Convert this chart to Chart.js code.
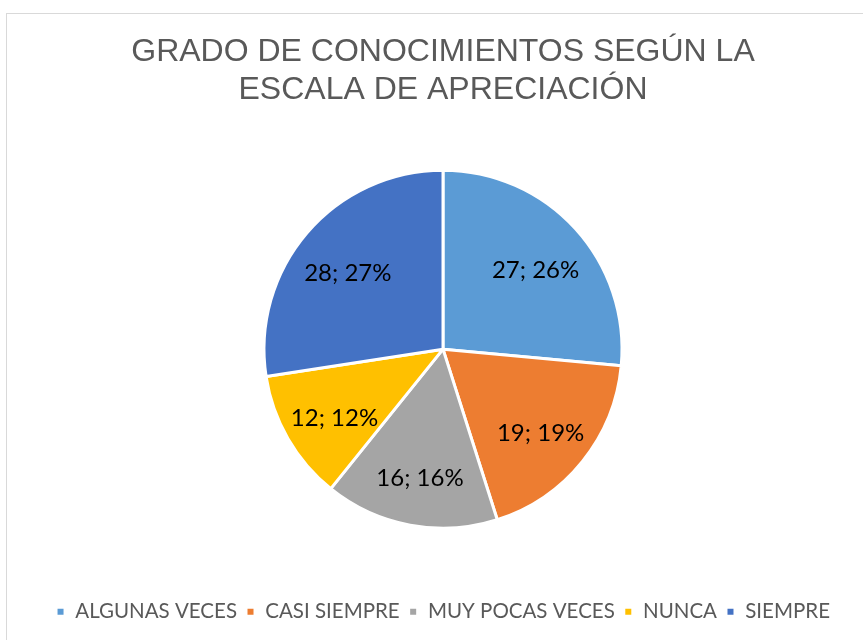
<!DOCTYPE html>
<html>
<head>
<meta charset="utf-8">
<script src="https://cdn.jsdelivr.net/npm/chart.js@4/dist/chart.umd.min.js"></script>
<style>
    html, body { margin: 0; padding: 0; background: #fff; overflow: hidden; }
    #wrap { position: relative; width: 863px; height: 640px; }
    #frame { position: absolute; left: 6px; top: 13px; width: 900px; height: 700px; border: 1px solid #d9d9d9; box-sizing: border-box; }
    canvas { position: absolute; left: 0; top: 0; }
</style>
</head>
<body>
<div id="wrap">
    <div id="frame"></div>
    <canvas id="pieChart" width="863" height="640"></canvas>
</div>
<script>
// Datos del gráfico
const categorias = ['ALGUNAS VECES', 'CASI SIEMPRE', 'MUY POCAS VECES', 'NUNCA', 'SIEMPRE'];
const valores = [27, 19, 16, 12, 28];
const colores = ['#5B9BD5', '#ED7D31', '#A5A5A5', '#FFC000', '#4472C4'];
const tituloLineas = ['GRADO DE CONOCIMIENTOS SEGÚN LA', 'ESCALA DE APRECIACIÓN'];

// Etiquetas "valor; porcentaje" dentro de cada sector
const etiquetasPlugin = {
    id: 'etiquetas',
    afterDatasetsDraw(chart) {
        const ctx = chart.ctx;
        const meta = chart.getDatasetMeta(0);
        const data = chart.data.datasets[0].data;
        const total = data.reduce((a, b) => a + b, 0);
        ctx.save();
        ctx.font = '24px Lato, "Open Sans", sans-serif';
        ctx.fillStyle = '#000';
        ctx.textAlign = 'center';
        ctx.textBaseline = 'middle';
        meta.data.forEach((arc, i) => {
            const mid = (arc.startAngle + arc.endAngle) / 2;
            const r = arc.outerRadius * 0.7;
            const x = arc.x + Math.cos(mid) * r;
            const y = arc.y + Math.sin(mid) * r + 6;
            const pct = Math.round(data[i] / total * 100);
            ctx.fillText(data[i] + '; ' + pct + '%', x, y);
        });
        ctx.restore();
    }
};

const ctx = document.getElementById('pieChart');
new Chart(ctx, {
    type: 'pie',
    data: {
        labels: categorias,
        datasets: [{
            data: valores,
            backgroundColor: colores,
            borderColor: '#ffffff',
            borderWidth: 3,
            radius: 179
        }]
    },
    options: {
        responsive: false,
        animation: false,
        layout: {
            padding: { left: 23, right: 0, top: 0, bottom: 8 }
        },
        plugins: {
            title: {
                display: true,
                text: tituloLineas,
                color: '#595959',
                font: { family: '"Liberation Sans", Arial, sans-serif', size: 32, weight: 'normal', lineHeight: 1.2 },
                padding: { top: 33, bottom: -4 }
            },
            legend: {
                position: 'bottom',
                labels: {
                    color: '#595959',
                    boxWidth: 9,
                    boxHeight: 9,
                    padding: 9,
                    font: { family: 'Lato, "Open Sans", sans-serif', size: 20.5 }
                }
            },
            tooltip: { enabled: false }
        }
    },
    plugins: [etiquetasPlugin]
});
</script>
</body>
</html>
